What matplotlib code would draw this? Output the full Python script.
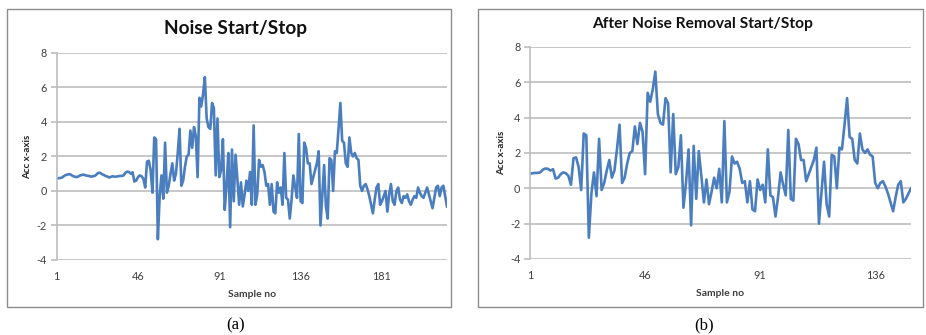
import numpy as np
import matplotlib
matplotlib.use("Agg")
import matplotlib.pyplot as plt
from matplotlib.patches import Rectangle

plt.rcParams["axes.unicode_minus"] = False

# accelerometer x-axis readings, split into the idle lead-in, the active
# start/stop window and the idle tail
lead_in = [0.72, 0.74, 0.75, 0.78, 0.86, 0.92, 0.95, 0.98, 0.93, 0.86,
           0.83, 0.80, 0.84, 0.90, 0.93, 0.95, 0.90, 0.88, 0.87, 0.83,
           0.85, 0.87, 0.95, 1.05, 1.05, 0.98, 0.93, 0.87, 0.84, 0.78,
           0.82, 0.85, 0.83]

active = [0.83, 0.85, 0.87, 0.87, 0.90, 1.05, 1.12, 1.10, 1.00, 1.08,
          0.55, 0.60, 0.80, 0.90, 0.85, 0.70, 0.20, 1.70, 1.75, 1.20,
          -0.10, 3.10, 3.00, -2.80, -0.30, 0.90, -0.45, 2.80, -0.10, 0.30,
          1.00, 1.60, 0.60, 1.00, 2.20, 3.60, 0.30, 0.60, 1.40, 2.00,
          2.10, 3.50, 2.50, 3.70, 3.20, 0.80, 5.40, 4.90, 5.60, 6.60,
          4.20, 3.70, 3.60, 5.10, 4.80, 0.90, 4.20, 0.80, 1.20, 3.00,
          -1.10, 0.30, 2.20, -2.10, 2.40, -0.60, 2.10, 0.70, -0.80, 0.50,
          -0.90, -0.20, 0.60, 0.00, 1.10, -0.80, 3.80, -0.80, -0.20, 1.80,
          1.40, 1.50, 1.10, 0.30, 0.40, -0.80, 0.40, -1.20, -1.30, 0.50,
          -0.10, 0.20, -0.80, 2.20, -0.40, -0.50, -1.60, -0.50, 0.90, 0.20,
          -0.40, 3.30, -0.60, -0.70, 2.80, 2.50, 1.60, 1.60, 0.40, 0.80,
          1.20, 1.60, 2.30, -2.00, -0.20, 1.50, -0.90, -1.60, 1.90, 1.80,
          0.00, 2.30, 2.20, 3.60, 5.10, 2.90, 2.80, 1.60, 1.40, 3.10,
          2.20, 2.00, 2.20, 1.90, 1.80, 0.30, 0.00, 0.30, 0.40, 0.10,
          -0.30, -0.80, -1.30, -0.50, 0.20, 0.40, -0.80, -0.60, -0.30, 0.00]

tail = [-1.20, -0.20, 0.40, -0.60, -0.80, 0.00, 0.20, -0.50, -0.70, -0.30,
        -0.40, -0.20, -0.60, -0.80, -0.50, -0.30, -0.40, 0.20, -0.10, -0.30,
        -0.40, -0.10, 0.20, -0.20, -0.60, -1.00, -0.40, 0.20, 0.30, -0.30,
        0.20, 0.30, -0.30, -0.90]

noise_signal = lead_in + active + tail
after_removal = active

ticks_a = [1, 46, 91, 136, 181]
ticks_b = [1, 46, 91, 136]

LINE = "#4A7EBF"
GRID = "#BDBDBD"
TEXT = "#404040"
FONT = "Lato"

fig = plt.figure(figsize=(9.26, 3.35), dpi=100)
fig.patch.set_facecolor("white")


def style(ax, values, ticks, title, title_size, title_x, title_y):
    x = np.arange(1, len(values) + 1)
    ax.plot(x, values, color=LINE, lw=1.9, solid_joinstyle="round")
    ax.set_xlim(1, len(values))
    ax.set_ylim(-4, 8)
    ax.set_yticks(range(-4, 9, 2))
    ax.set_xticks(ticks)
    ax.yaxis.grid(True, color=GRID, lw=1.2)
    ax.set_axisbelow(True)
    for s in ["top", "right", "bottom"]:
        ax.spines[s].set_visible(False)
    ax.spines["left"].set_color(GRID)
    ax.spines["left"].set_linewidth(1.2)
    ax.tick_params(axis="y", length=4, color=GRID, width=1.2,
                   labelsize=7.8, labelcolor=TEXT, pad=3)
    ax.tick_params(axis="x", length=0, labelsize=7.8, labelcolor=TEXT, pad=8)
    for lab in ax.get_xticklabels() + ax.get_yticklabels():
        lab.set_fontfamily(FONT)
    ax.set_xlabel("Sample no", fontsize=7.5, fontweight="bold",
                  fontfamily=FONT, color=TEXT, labelpad=6)
    ax.set_ylabel("Acc x-axis", fontsize=7, fontweight="bold",
                  fontfamily=FONT, color="#202020", labelpad=3)
    fig.text(title_x / 926, title_y, title, ha="center", va="center",
             fontsize=title_size, fontweight="bold", fontfamily=FONT,
             color="#111111")


ax_a = fig.add_axes([0.0612, 0.224, 0.4215, 0.618])
style(ax_a, noise_signal, ticks_a, "Noise Start/Stop", 13.7, 235, 0.915)

ax_b = fig.add_axes([0.5724, 0.227, 0.4114, 0.633])
style(ax_b, after_removal, ticks_b, "After Noise Removal Start/Stop", 11.2,
      703, 0.928)

# panel frames
for x0, x1 in [(7, 451), (478, 923)]:
    fig.patches.append(Rectangle((x0 / 926, 1 - 307 / 335), (x1 - x0) / 926,
                                 (307 - 9) / 335, transform=fig.transFigure,
                                 fill=False, edgecolor="#8C8C8C", lw=1.0))

fig.text(236 / 926, 1 - 325 / 335, "(a)", ha="center", va="center",
         fontsize=12, fontfamily="Liberation Serif")
fig.text(704 / 926, 1 - 325 / 335, "(b)", ha="center", va="center",
         fontsize=12, fontfamily="Liberation Serif")

fig.savefig("out.png", dpi=100)
